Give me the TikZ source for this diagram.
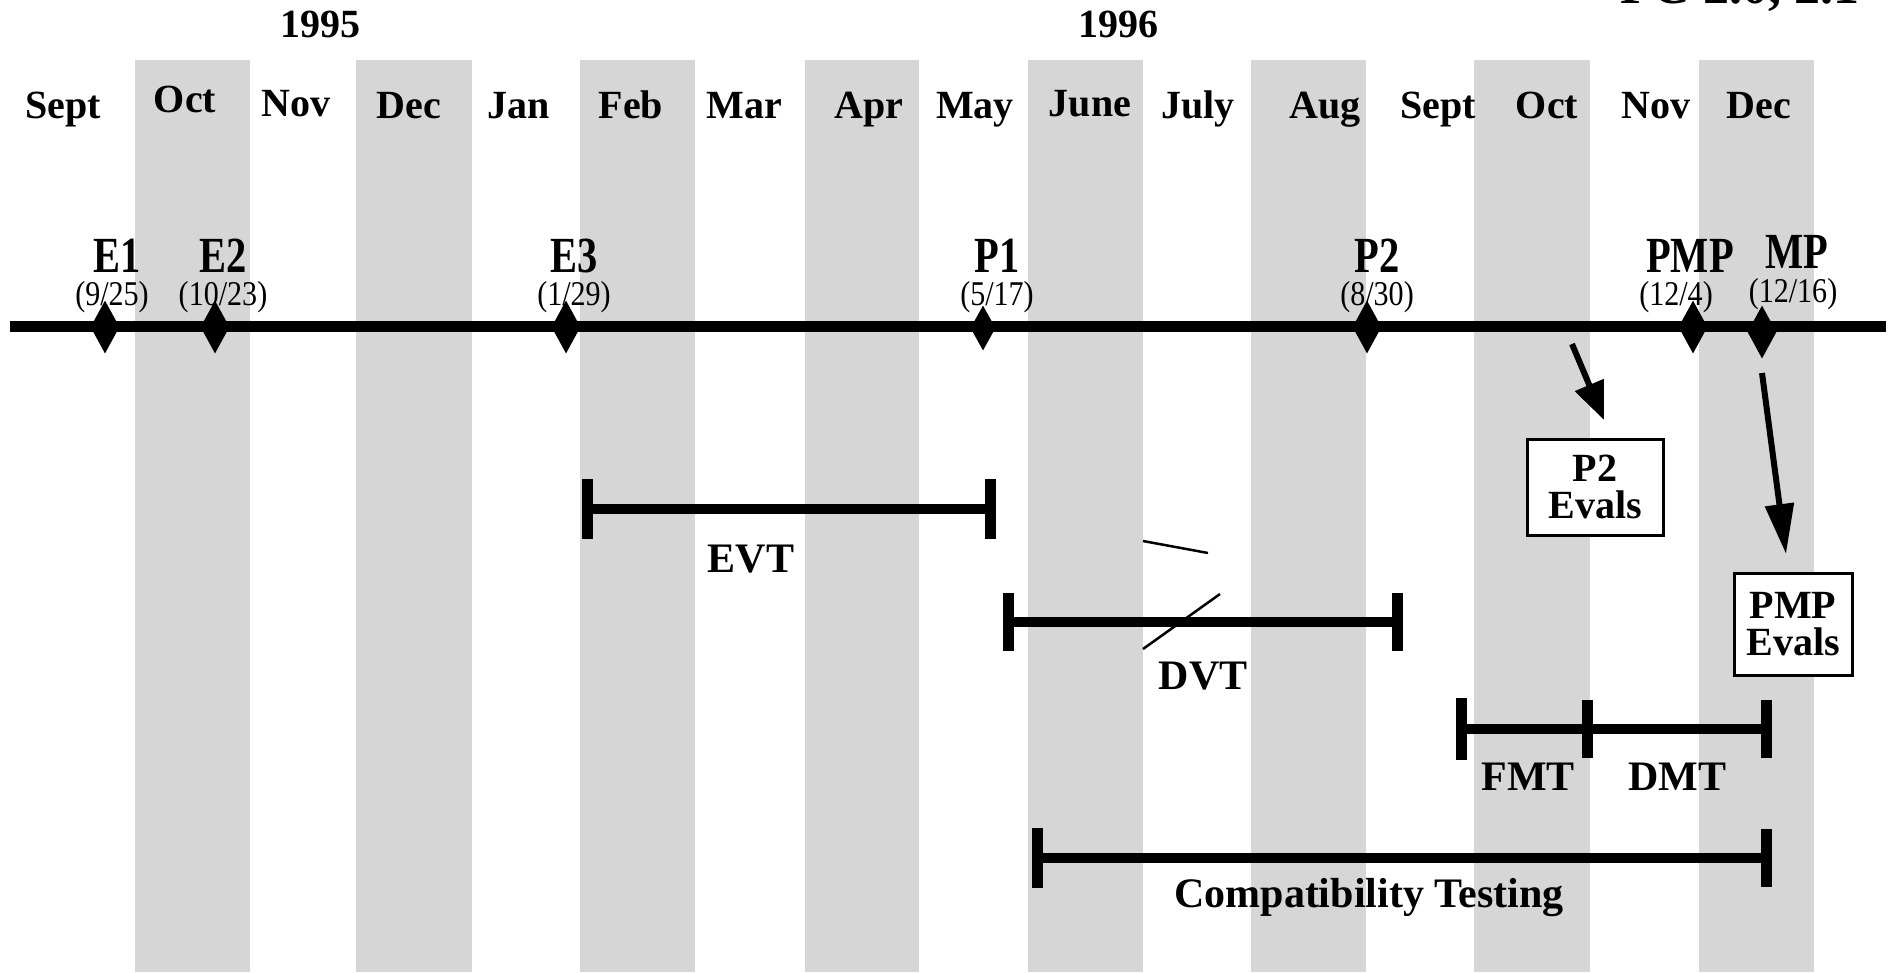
\documentclass[tikz,border=0pt]{standalone}
\usepackage{fontspec}
\setmainfont{Liberation Serif}
\usetikzlibrary{shapes.geometric,arrows.meta}
\newcommand{\mstext}[1]{\scalebox{0.88}[1.1]{#1}}
\newcommand{\dttext}[1]{\scalebox{0.97}[1.12]{#1}}
\begin{document}
\begin{tikzpicture}[x=1pt,y=-1pt,
  col/.style={fill=black!16},
  mon/.style={font=\fontsize{40}{40}\selectfont\bfseries, inner sep=0, anchor=base},
  msl/.style={font=\fontsize{46}{46}\selectfont\bfseries, inner sep=0, anchor=base},
  dte/.style={font=\fontsize{31}{31}\selectfont, inner sep=0, anchor=base},
  dia/.style={diamond, fill=black, inner sep=0, minimum width=29pt, minimum height=53pt},
  dias/.style={dia, minimum width=25pt, minimum height=45pt},
  axisline/.style={line width=11pt},
  bar/.style={line width=10pt},
  tickmark/.style={line width=11pt},
  blab/.style={font=\fontsize{42}{42}\selectfont\bfseries, inner sep=0, anchor=base},
  ebox/.style={draw, line width=3pt, fill=white, align=center, inner sep=0, font=\fontsize{40}{37}\selectfont\bfseries},
  arr/.style={line width=6pt, -{Triangle[length=38pt,width=30pt]}},
  arrlong/.style={line width=6pt, -{Triangle[length=50pt,width=28pt]}},
  slash/.style={line width=2.5pt}
]
\useasboundingbox (0,0) rectangle (1892,972);
\begin{scope}
\clip (0,0) rectangle (1892,972);
% shaded month columns
\fill[col] (135,60) rectangle (250,972);
\fill[col] (356,60) rectangle (472,972);
\fill[col] (580,60) rectangle (695,972);
\fill[col] (805,60) rectangle (919,972);
\fill[col] (1028,60) rectangle (1143,972);
\fill[col] (1251,60) rectangle (1366,972);
\fill[col] (1474,60) rectangle (1590,972);
\fill[col] (1699,60) rectangle (1814,972);
% clipped title at top right
\node[font=\fontsize{52}{52}\selectfont\bfseries, inner sep=0, anchor=base] (title) at (1740,3) {PC 2.0, 2.1};
\end{scope}

% years
\node[mon] (y95) at (320,37) {1995};
\node[mon] (y96) at (1118,37) {1996};

% months
\node[mon] (m1) at (63,118) {Sept};
\node[mon] (m2) at (185,112) {Oct};
\node[mon] (m3) at (296,116) {Nov};
\node[mon] (m4) at (409,118) {Dec};
\node[mon] (m5) at (519,118) {Jan};
\node[mon] (m6) at (631,118) {Feb};
\node[mon] (m7) at (744,118) {Mar};
\node[mon] (m8) at (869,118) {Apr};
\node[mon] (m9) at (975,118) {May};
\node[mon] (m10) at (1090,116) {June};
\node[mon] (m11) at (1198,118) {July};
\node[mon] (m12) at (1325,118) {Aug};
\node[mon] (m13) at (1438,118) {Sept};
\node[mon] (m14) at (1547,118) {Oct};
\node[mon] (m15) at (1656,118) {Nov};
\node[mon] (m16) at (1759,118) {Dec};

% timeline
\coordinate (tlL) at (10,326);
\coordinate (tlR) at (1886,326);
\draw[axisline] (tlL) -- (tlR);

% milestones
\node[dia] (e1) at (105,327) {};
\node[dia] (e2) at (215,327) {};
\node[dia] (e3) at (566,327) {};
\node[dias] (p1) at (983,328) {};
\node[dia] (p2) at (1367,327) {};
\node[dia] (pmp) at (1693,327) {};
\node[dia] (mp) at (1762,332) {};

\node[msl] (le1) at (117,272) {\mstext{E1}};
\node[msl] (le2) at (223,272) {\mstext{E2}};
\node[msl] (le3) at (574,272) {\mstext{E3}};
\node[msl] (lp1) at (997,272) {\mstext{P1}};
\node[msl] (lp2) at (1377,272) {\mstext{P2}};
\node[msl] (lpmp) at (1690,272) {\mstext{PMP}};
\node[msl] (lmp) at (1797,268) {\mstext{MP}};

\node[dte] (d1) at (112,305) {\dttext{(9/25)}};
\node[dte] (d2) at (223,305) {\dttext{(10/23)}};
\node[dte] (d3) at (574,305) {\dttext{(1/29)}};
\node[dte] (d4) at (997,305) {\dttext{(5/17)}};
\node[dte] (d5) at (1377,305) {\dttext{(8/30)}};
\node[dte] (d6) at (1676,305) {\dttext{(12/4)}};
\node[dte] (d7) at (1793,302) {\dttext{(12/16)}};

% EVT
\coordinate (evtL) at (587,509);
\coordinate (evtR) at (990,509);
\draw[bar] (evtL) -- (evtR);
\draw[tickmark] ([yshift=30pt]evtL) -- ([yshift=-30pt]evtL);
\draw[tickmark] ([yshift=30pt]evtR) -- ([yshift=-30pt]evtR);
\node[blab] (evt) at (751,572) {EVT};

% DVT
\coordinate (dvtL) at (1008,622);
\coordinate (dvtR) at (1397,622);
\draw[bar] (dvtL) -- (dvtR);
\draw[tickmark] ([yshift=29pt]dvtL) -- ([yshift=-29pt]dvtL);
\draw[tickmark] ([yshift=29pt]dvtR) -- ([yshift=-29pt]dvtR);
\node[blab] (dvt) at (1203,689) {DVT};

% stray slash marks
\coordinate (s1a) at (1143,541);
\coordinate (s1b) at (1208,553);
\draw[slash] (s1a) -- (s1b);
\coordinate (s2a) at (1143,649);
\coordinate (s2b) at (1220,594);
\draw[slash] (s2a) -- (s2b);

% FMT / DMT
\coordinate (fmtL) at (1461,729);
\coordinate (fmtM) at (1587,729);
\coordinate (dmtR) at (1766,729);
\draw[bar] (fmtL) -- (fmtM) -- (dmtR);
\draw[tickmark] ([yshift=31pt]fmtL) -- ([yshift=-31pt]fmtL);
\draw[tickmark] ([yshift=29pt]fmtM) -- ([yshift=-29pt]fmtM);
\draw[tickmark] ([yshift=29pt]dmtR) -- ([yshift=-29pt]dmtR);
\node[blab] (fmt) at (1528,790) {FMT};
\node[blab] (dmt) at (1677,790) {DMT};

% Compatibility testing
\coordinate (ctL) at (1037,858);
\coordinate (ctR) at (1766,858);
\draw[bar] (ctL) -- (ctR);
\draw[tickmark] ([yshift=30pt]ctL) -- ([yshift=-30pt]ctL);
\draw[tickmark] ([yshift=29pt]ctR) -- ([yshift=-29pt]ctR);
\node[blab] (ct) at (1369,907) {Compatibility Testing};

% eval boxes and arrows
\node[ebox, minimum width=136pt, minimum height=96pt] (p2e) at (1595,487) {P2\\Evals};
\node[ebox, minimum width=118pt, minimum height=102pt] (pmpe) at (1793,624) {PMP\\Evals};
\coordinate (a1s) at (1572,344);
\coordinate (a1e) at (1604,420);
\draw[arr] (a1s) -- (a1e);
\coordinate (a2s) at (1762,373);
\coordinate (a2e) at (1786,554);
\draw[arrlong] (a2s) -- (a2e);
\end{tikzpicture}
\end{document}
